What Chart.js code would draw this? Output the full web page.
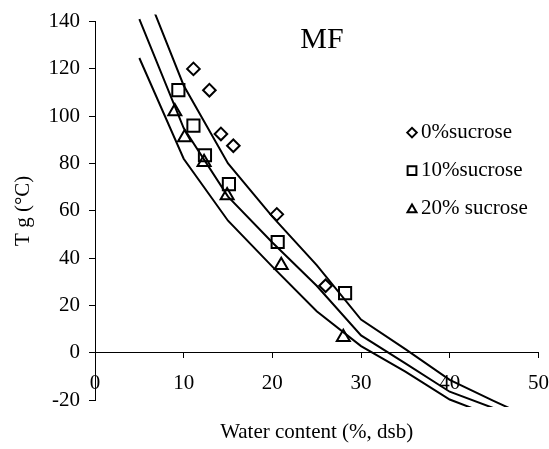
<!DOCTYPE html>
<html>
<head>
<meta charset="utf-8">
<script src="https://cdn.jsdelivr.net/npm/chart.js@4/dist/chart.umd.min.js"></script>
<style>
  html, body { margin: 0; padding: 0; background: #fff; }
  canvas { display: block; }
</style>
</head>
<body>
<canvas id="tg-chart" width="549" height="449"></canvas>
<script>
// measured Tg points, water content in %, dsb
const waterSuc0 = [11.1, 12.9, 14.2, 15.6, 20.5, 26.0];
const tgSuc0 = [120, 111, 92.5, 87.5, 58.5, 28.3];
const waterSuc10 = [9.4, 11.1, 12.4, 15.1, 20.6, 28.2];
const tgSuc10 = [111, 96, 83.5, 71.3, 46.8, 25.2];
const waterSuc20 = [9.0, 10.1, 12.3, 14.9, 21.0, 28.0];
const tgSuc20 = [102, 91, 80.5, 66.5, 37, 6.5];

// fitted curves (one per sucrose level)
const curveWater = [5, 10, 15, 20, 25, 30, 35, 40, 45, 50];
const curveTgA = [160, 113, 80, 57.5, 37, 14, 1.5, -11.5, -20.5, -29];
const curveTgB = [141, 95, 66, 46.6, 28.3, 7.3, -4.5, -16.5, -23.5];
const curveTgC = [124.6, 82, 55.8, 36.4, 17.5, 2.8, -8, -19.8, -27];

const seriesLabels = ['0%sucrose', '10%sucrose', '20% sucrose'];
const xTickValues = [0, 10, 20, 30, 40, 50];
const yTickValues = [-20, 0, 20, 40, 60, 80, 100, 120, 140];
const chartTitle = 'MF';
const xTitle = 'Water content (%, dsb)';
const yTitle = 'T g (°C)';

const serif = "'Liberation Serif', 'Times New Roman', serif";
const ink = '#000';

function pts(xs, ys) {
    return ys.map((y, i) => ({x: xs[i], y: y}));
}

function markerSet(label, xs, ys, style, r) {
    return {
        label: label,
        data: pts(xs, ys),
        showLine: false,
        pointStyle: style,
        pointRadius: r,
        pointHoverRadius: r,
        pointBorderWidth: 2,
        borderColor: ink,
        backgroundColor: 'rgba(0,0,0,0)',
        isMarker: true
    };
}

function curveSet(ys) {
    return {
        label: '',
        data: pts(curveWater, ys),
        showLine: true,
        borderColor: ink,
        borderWidth: 2,
        pointRadius: 0,
        pointHoverRadius: 0,
        tension: 0,
        fill: false,
        clip: {left: 0, top: 7, right: 0, bottom: 7}
    };
}

// title + legend sit inside the plot, so draw them after the chart
const inPlotText = {
    id: 'inPlotText',
    afterDraw(chart) {
        const ctx = chart.ctx;
        const ca = chart.chartArea;
        ctx.save();
        ctx.fillStyle = ink;
        ctx.textBaseline = 'middle';
        ctx.font = '30px ' + serif;
        ctx.textAlign = 'center';
        ctx.fillText(chartTitle, ca.left + 227, ca.top + 19);

        ctx.font = '21px ' + serif;
        ctx.textAlign = 'left';
        const markers = chart.data.datasets.filter(d => d.isMarker);
        const sizes = {rectRot: 4.8, rect: 6.2, triangle: 5.2};
        markers.forEach((d, i) => {
            const y = ca.top + 111 + i * 38;
            const x = ca.left + 317;
            ctx.strokeStyle = ink;
            ctx.fillStyle = 'rgba(0,0,0,0)';
            ctx.lineWidth = 2;
            Chart.helpers.drawPoint(ctx, {pointStyle: d.pointStyle, radius: sizes[d.pointStyle], borderWidth: 2, rotation: 0}, x, d.pointStyle === 'triangle' ? y + 1 : y);
            ctx.fillStyle = ink;
            ctx.fillText(d.label, x + 9, y);
        });
        ctx.restore();
    }
};

const ctx = document.getElementById('tg-chart').getContext('2d');
new Chart(ctx, {
    type: 'scatter',
    data: {
        datasets: [
            curveSet(curveTgA),
            curveSet(curveTgB),
            curveSet(curveTgC),
            markerSet(seriesLabels[0], waterSuc0, tgSuc0, 'rectRot', 6.3),
            markerSet(seriesLabels[1], waterSuc10, tgSuc10, 'rect', 8.6),
            markerSet(seriesLabels[2], waterSuc20, tgSuc20, 'triangle', 7.5)
        ]
    },
    options: {
        responsive: false,
        animation: false,
        layout: {padding: {top: 20, right: 10, bottom: 0, left: 0}},
        plugins: {
            legend: {display: false},
            tooltip: {enabled: false}
        },
        scales: {
            x: {
                type: 'linear',
                position: {y: 0},
                min: 0,
                max: 50,
                afterBuildTicks: s => { s.ticks = xTickValues.map(v => ({value: v})); },
                afterFit: s => { s.paddingLeft = 0; s.paddingRight = 0; },
                grid: {drawOnChartArea: false, drawTicks: true, tickLength: 5, color: ink},
                border: {display: true, color: ink, width: 1},
                ticks: {color: ink, padding: 13, maxRotation: 0, font: {family: serif, size: 21}}
            },
            xTitle: {
                type: 'linear',
                axis: 'x',
                position: 'bottom',
                min: 0,
                max: 50,
                afterFit: s => { s.height = 49; s.paddingLeft = 0; s.paddingRight = 0; },
                grid: {display: false},
                border: {display: false},
                ticks: {display: false},
                title: {
                    display: true,
                    text: xTitle,
                    color: ink,
                    font: {family: serif, size: 21},
                    padding: {top: 0, bottom: 4}
                }
            },
            y: {
                type: 'linear',
                position: 'left',
                min: -20,
                max: 140,
                afterBuildTicks: s => { s.ticks = yTickValues.map(v => ({value: v})); },
                afterFit: s => { s.width = 95; },
                grid: {drawOnChartArea: false, drawTicks: true, tickLength: 6, color: ink},
                border: {display: true, color: ink, width: 1},
                ticks: {color: ink, padding: 9, font: {family: serif, size: 21}},
                title: {
                    display: true,
                    text: yTitle,
                    color: ink,
                    font: {family: serif, size: 21},
                    padding: {top: 11, bottom: 0}
                }
            }
        }
    },
    plugins: [inPlotText]
});
</script>
</body>
</html>
